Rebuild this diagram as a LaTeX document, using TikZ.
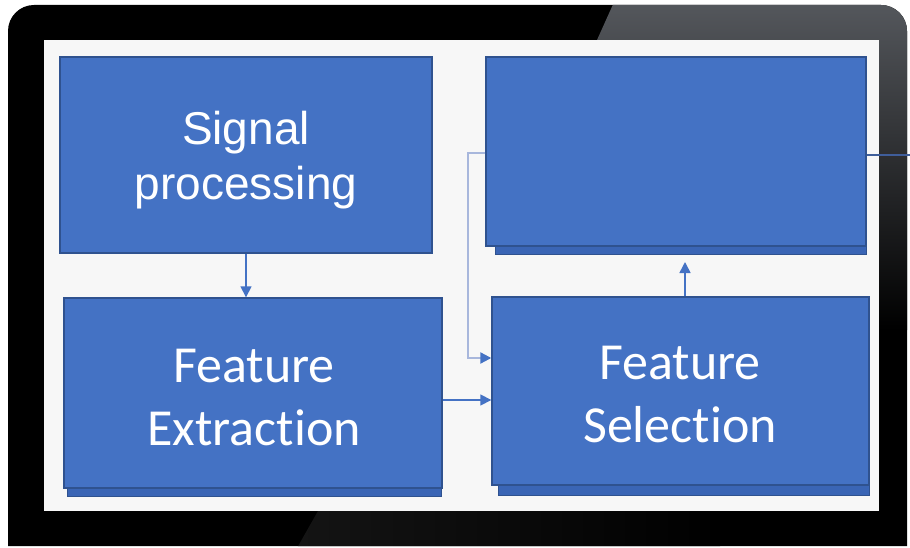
\documentclass[tikz,border=0pt]{standalone}
\usepackage{fontspec}
\setmainfont{Liberation Sans}
\newfontfamily\calib[Ligatures=NoCommon]{Carlito}
\usetikzlibrary{arrows.meta,shadings}
\definecolor{boxblue}{HTML}{4472C4}
\definecolor{boxedge}{HTML}{2F528F}
\definecolor{shadblue}{HTML}{3A65B5}
\definecolor{loopblue}{HTML}{A8B7DC}
\definecolor{wireblue}{HTML}{3F5E9A}
\definecolor{bezelgray}{HTML}{55585D}
\definecolor{bezeldark}{HTML}{141414}
\begin{document}
\begin{tikzpicture}[x=1pt,y=-1pt,
  bluebox/.style={draw=boxedge,line width=1.4pt,fill=boxblue,inner sep=0pt},
  shadbox/.style={draw=boxedge,line width=1pt,fill=shadblue},
  arr/.style={draw=boxblue,line width=1.6pt,-{Triangle[length=11pt,width=11pt]}},
  looparr/.style={draw=loopblue,line width=2.2pt,-{Triangle[length=11pt,width=11pt,fill=boxblue,color=boxblue]}},
  txtA/.style={text=white,align=center,font=\fontsize{46}{55}\selectfont},
  txtB/.style={text=white,align=center,font=\calib\fontsize{52}{63}\selectfont}]
\useasboundingbox (0,0) rectangle (910,548);
\fill[white] (0,0) rectangle (910,548);
% monitor frame
\begin{scope}
\clip (8,546) [rounded corners=26pt] -- (8,5) -- (907,5) [sharp corners] -- (907,546) -- cycle;
\fill[black] (0,0) rectangle (910,548);
\shade[top color=bezelgray,bottom color=black] (615,0) -- (910,0) -- (910,330) -- (870,330) -- (870,40) -- (597,40) -- cycle;
\shade[left color=bezeldark,right color=black] (297,548) -- (318,511) -- (720,511) -- (720,548) -- cycle;
\end{scope}
\fill[white!97!black] (44,40) rectangle (879,511);
% shadows
\filldraw[shadbox] (495,150) rectangle (866,254);
\filldraw[shadbox] (67,400) rectangle (441,496);
\filldraw[shadbox] (498,400) rectangle (869,495);
% boxes
\node[bluebox,minimum width=372pt,minimum height=196pt] (SP) at (246,155) {};
\node[bluebox,minimum width=380pt,minimum height=189pt] (TR) at (676,151.5) {};
\node[bluebox,minimum width=378pt,minimum height=190pt] (FE) at (253,393) {};
\node[bluebox,minimum width=377pt,minimum height=188pt] (FS) at (680.5,391) {};
\node[txtA] (SPt) at (246,160) {Signal\\processing};
\node[txtB] (FEt) at (254,398) {Feature\\Extraction};
\node[txtB] (FSt) at (680,395) {Feature\\Selection};
% connectors
\coordinate (c1) at (246,0);
\coordinate (c2) at (685,0);
\coordinate (c3) at (0,400);
\coordinate (c4) at (0,153);
\coordinate (c5) at (468,358);
\coordinate (c6) at (0,155);
\coordinate (rightend) at (910,155);
\coordinate (tipTR) at (685,262);
\draw[arr] (SP.south -| c1) -- (FE.north -| c1);
\draw[arr] (FS.north -| c2) -- (tipTR);
\draw[arr] (FE.east |- c3) -- (FS.west |- c3);
\draw[looparr] (TR.west |- c4) -| (c5) -- (FS.west |- c5);
\draw[wireblue,line width=1.5pt] (TR.east |- c6) -- (rightend);
\end{tikzpicture}
\end{document}
